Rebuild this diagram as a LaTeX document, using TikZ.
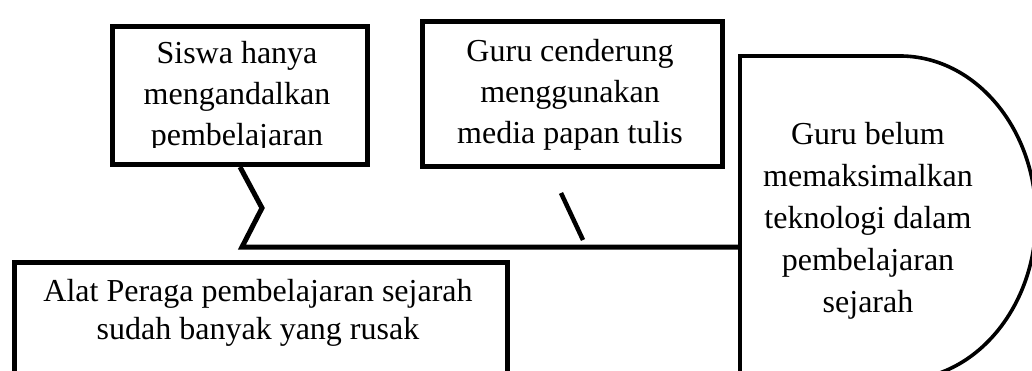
\documentclass[tikz,border=0pt]{standalone}
\usepackage{fontspec}
\setmainfont{Liberation Serif}
\begin{document}
\begin{tikzpicture}[x=1pt,y=-1pt,
  boxline/.style={draw=black, fill=white, line width=5pt, inner sep=0pt, anchor=north west},
  dline/.style={draw=black, fill=white, line width=3.6pt},
  conn/.style={draw=black, line width=5pt, line join=miter},
  txt/.style={inner sep=0pt, align=center}]
\useasboundingbox (0,0) rectangle (1032,371);
\begin{scope}
\clip (0,0) rectangle (1032,371);
% boxes
\node[boxline, minimum width=255pt, minimum height=138pt] (b1) at (110,24) {};
\node[boxline, minimum width=300pt, minimum height=145pt] (b2) at (420,19) {};
\node[boxline, minimum width=493pt, minimum height=160pt] (b3) at (12,260) {};
% D shape
\draw[dline] (740,400) -- (740,56) -- (900,56)
  arc[start angle=-90, end angle=90, x radius=136, y radius=162] -- (740,380) -- cycle;
\coordinate (dl) at (740,247);
% connectors
\coordinate (z1) at (262,208);
\coordinate (z2) at (242,247);
\draw[conn] (b1.south) -- (z1) -- (z2) -- (dl);
\coordinate (s1) at (561,193);
\coordinate (s2) at (583,240);
\draw[conn, line width=4.5pt] (s1) -- (s2);
% texts
\begin{scope}
\clip (110,24) rectangle (365,148);
\node[txt, font=\fontsize{32}{41}\selectfont] (t1) at (237,97) {Siswa hanya\\mengandalkan\\pembelajaran};
\end{scope}
\node[txt, font=\fontsize{32}{41}\selectfont] (t2) at (570,95) {Guru cenderung\\menggunakan\\media papan tulis};
\node[txt, font=\fontsize{32}{38}\selectfont] (t3) at (258,313) {Alat Peraga pembelajaran sejarah\\sudah banyak yang rusak};
\node[txt, font=\fontsize{32}{42}\selectfont] (t4) at (868,221) {Guru belum\\memaksimalkan\\teknologi dalam\\pembelajaran\\sejarah};
\end{scope}
\end{tikzpicture}
\end{document}
